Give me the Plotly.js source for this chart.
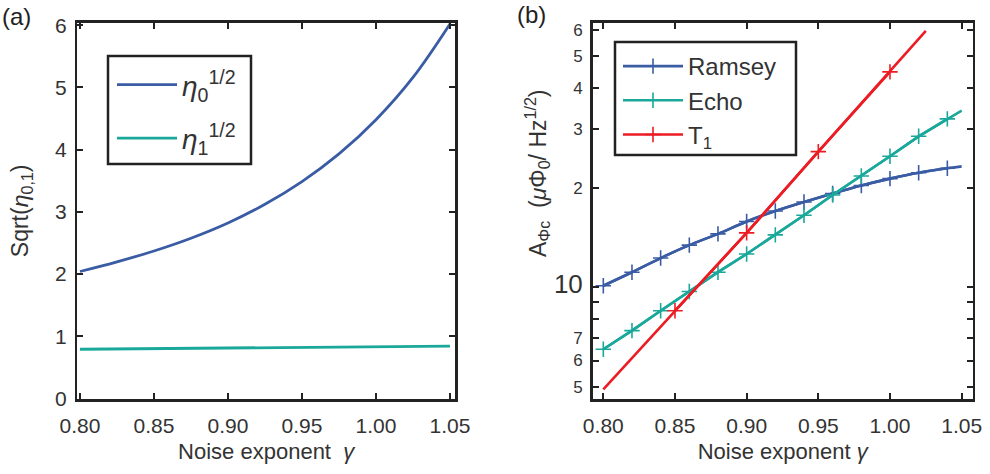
<!DOCTYPE html>
<html>
<head>
<meta charset="utf-8">
<script src="https://cdn.plot.ly/plotly-3.0.1.min.js"></script>
<style>html,body{margin:0;padding:0;background:#fff}#chart{width:990px;height:474px}</style>
</head>
<body>
<div id="chart"></div>
<script>
// Panel (a)
var gammaA = [0.80, 0.825, 0.85, 0.875, 0.90, 0.925, 0.95, 0.975, 1.00, 1.025, 1.05];
var eta0 = [2.04, 2.195, 2.37, 2.575, 2.82, 3.12, 3.485, 3.93, 4.48, 5.16, 6.02];
var eta1 = [0.79, 0.795, 0.80, 0.805, 0.81, 0.815, 0.82, 0.825, 0.83, 0.835, 0.84];

// Panel (b)
var gammaB = [0.80, 0.82, 0.84, 0.86, 0.88, 0.90, 0.92, 0.94, 0.96, 0.98, 1.00, 1.02, 1.04, 1.05];
var ramsey = [10.1, 11.1, 12.25, 13.4, 14.5, 15.8, 17.0, 18.1, 19.2, 20.3, 21.3, 22.2, 22.9, 23.2];
var echo = [6.49, 7.39, 8.49, 9.70, 11.1, 12.6, 14.4, 16.5, 19.0, 21.7, 24.9, 28.6, 32.3, 34.2];
var gammaT1 = [0.80, 0.85, 0.90, 0.95, 1.00, 1.025];
var t1 = [4.91, 8.49, 14.6, 25.7, 44.8, 59.6];

var logTicks = [5, 6, 7, 10, 20, 30, 40, 50, 60];
var logTickText = ['5', '6', '7', '<span style="font-size:26px">10</span>', '2', '3', '4', '5', '6'];
var logMinorTicks = [8, 9];
var xTicks = [0.80, 0.85, 0.90, 0.95, 1.00, 1.05];
var xTickText = ['0.80', '0.85', '0.90', '0.95', '1.00', '1.05'];

var BLUE = '#3a5ca4', TEAL = '#1aa89a', RED = '#ec1c24';
var FONT = 'Liberation Sans, Arial, sans-serif';
var W = 990, H = 474;
function fx(p) { return p / W; }
function fy(p) { return 1 - p / H; }

var nB = 13; // markers shown on first 13 points
var mk = function (c) { return {symbol: 'cross-thin', size: 11, color: c, line: {color: c, width: 1.6}}; };
var traces = [
  {x: gammaA, y: eta0, mode: 'lines', line: {color: BLUE, width: 2.8, shape: 'spline', smoothing: 1}, name: '<i>η</i><sub>0</sub><sup>1/2</sup>', xaxis: 'x', yaxis: 'y', legend: 'legend', legendgroup: 'a0'},
  {x: gammaA, y: eta1, mode: 'lines', line: {color: TEAL, width: 2.8}, name: '<i>η</i><sub>1</sub><sup>1/2</sup>', xaxis: 'x', yaxis: 'y', legend: 'legend', legendgroup: 'a1'},

  {x: gammaB, y: ramsey, mode: 'lines', line: {color: BLUE, width: 2.6, shape: 'spline', smoothing: 0.6}, showlegend: false, xaxis: 'x2', yaxis: 'y2', hoverinfo: 'skip'},
  {x: gammaB.slice(0, nB), y: ramsey.slice(0, nB), mode: 'lines+markers', name: 'Ramsey', line: {color: BLUE, width: 2.6, shape: 'spline', smoothing: 0.6},
   marker: mk(BLUE), xaxis: 'x2', yaxis: 'y2', legend: 'legend2', legendgroup: 'r'},
  {x: gammaB, y: echo, mode: 'lines', line: {color: TEAL, width: 2.6}, showlegend: false, xaxis: 'x2', yaxis: 'y2', hoverinfo: 'skip'},
  {x: gammaB.slice(0, nB), y: echo.slice(0, nB), mode: 'lines+markers', name: 'Echo', line: {color: TEAL, width: 2.6},
   marker: mk(TEAL), xaxis: 'x2', yaxis: 'y2', legend: 'legend2', legendgroup: 'e'},
  {x: gammaT1, y: t1, mode: 'lines', line: {color: RED, width: 2.6}, showlegend: false, xaxis: 'x2', yaxis: 'y2', hoverinfo: 'skip'},
  {x: gammaT1.slice(1, 5), y: t1.slice(1, 5), mode: 'lines+markers', name: 'T<sub>1</sub>', line: {color: RED, width: 2.6},
   marker: mk(RED), xaxis: 'x2', yaxis: 'y2', legend: 'legend2', legendgroup: 't'}
];

var axBase = {
  showline: true, linecolor: '#222', linewidth: 2.5, mirror: 'ticks',
  ticks: 'inside', ticklen: 6, tickwidth: 2, tickcolor: '#222',
  showgrid: false, zeroline: false, fixedrange: true,
  tickfont: {family: FONT, size: 21, color: '#333'}
};
function ax(o) { return Object.assign({}, axBase, o); }

var layout = {
  width: W, height: H,
  margin: {l: 0, r: 0, t: 0, b: 0},
  paper_bgcolor: '#fff', plot_bgcolor: '#fff',
  font: {family: FONT, color: '#333'},
  xaxis: ax({domain: [fx(77.3), fx(455)], range: [0.7982, 1.0534], tickvals: xTicks, ticktext: xTickText,
    anchor: 'y', ticklabelstandoff: 6,
    title: {text: 'Noise exponent  <i>γ</i>', font: {family: FONT, size: 22, color: '#333'}, standoff: 8}}),
  yaxis: ax({domain: [fy(399), fy(22.7)], range: [-0.01, 6.04], tickvals: [0, 1, 2, 3, 4, 5, 6],
    anchor: 'x', ticklabelstandoff: 4,
    title: {text: 'Sqrt(<i>η</i><sub>0,1</sub>)', font: {family: FONT, size: 23, color: '#333'}, standoff: 20}}),
  xaxis2: ax({domain: [fx(592.7), fx(972.7)], range: [0.7926, 1.0577], tickvals: xTicks, ticktext: xTickText,
    anchor: 'y2', ticklabelstandoff: 6,
    title: {text: 'Noise exponent <i>γ</i>', font: {family: FONT, size: 22, color: '#333'}, standoff: 8}}),
  yaxis2: ax({domain: [fy(399), fy(22.7)], type: 'log', range: [Math.log10(4.59), Math.log10(63.1)],
    tickmode: 'array', tickvals: logTicks, ticktext: logTickText, anchor: 'x2', ticklabelstandoff: 4,
    minor: {tickmode: 'array', tickvals: logMinorTicks, ticks: 'inside', ticklen: 6, tickwidth: 2, tickcolor: '#222', showgrid: false},
    tickfont: {family: FONT, size: 17, color: '#333'}}),
  legend: {x: fx(112), y: fy(60), xanchor: 'left', yanchor: 'top', bgcolor: 'rgba(0,0,0,0)', borderwidth: 0,
    font: {family: FONT, size: 28, color: '#333'}, traceorder: 'grouped', tracegroupgap: 14, itemwidth: 60},
  legend2: {x: fx(618), y: fy(44), xanchor: 'left', yanchor: 'top', bgcolor: 'rgba(0,0,0,0)', borderwidth: 0,
    font: {family: FONT, size: 24, color: '#333'}, traceorder: 'grouped', tracegroupgap: 0, itemwidth: 60},
  shapes: [
    {type: 'rect', xref: 'paper', yref: 'paper', x0: fx(108), x1: fx(251), y0: fy(164), y1: fy(56),
     line: {color: '#222', width: 2.5}, fillcolor: 'rgba(0,0,0,0)', layer: 'above'},
    {type: 'rect', xref: 'paper', yref: 'paper', x0: fx(615), x1: fx(796), y0: fy(155), y1: fy(42),
     line: {color: '#222', width: 2.5}, fillcolor: 'rgba(0,0,0,0)', layer: 'above'}
  ],
  annotations: [
    {text: '(a)', xref: 'paper', yref: 'paper', x: fx(33), y: fy(16), xanchor: 'right', yanchor: 'middle', showarrow: false,
     font: {family: FONT, size: 24, color: '#222'}},
    {text: '(b)', xref: 'paper', yref: 'paper', x: fx(515), y: fy(15), xanchor: 'left', yanchor: 'middle', showarrow: false,
     font: {family: FONT, size: 24, color: '#222'}},
    {text: 'A<sub>Φc</sub>  (<i>μ</i>Φ<sub>0</sub>/ Hz<sup>1/2</sup>)', xref: 'paper', yref: 'paper', x: fx(537), y: fy(173),
     xanchor: 'center', yanchor: 'middle', textangle: -90, showarrow: false,
     font: {family: FONT, size: 23, color: '#333'}}
  ],
  showlegend: true
};

Plotly.newPlot('chart', traces, layout, {displayModeBar: false, staticPlot: true});
</script>
</body>
</html>
